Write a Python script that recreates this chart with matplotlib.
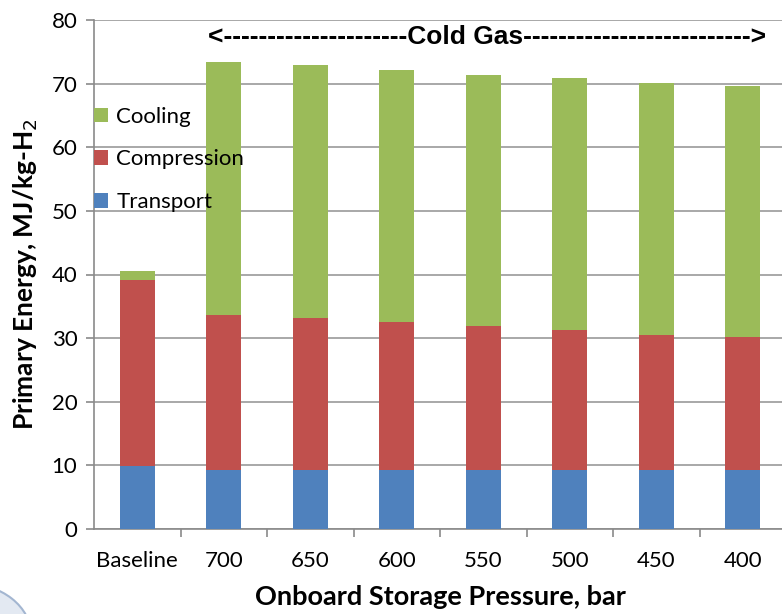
import numpy as np
import matplotlib
matplotlib.use("Agg")
import matplotlib.pyplot as plt
from matplotlib.patches import Circle

categories = ["Baseline", "700", "650", "600", "550", "500", "450", "400"]
transport = [9.9, 9.3, 9.3, 9.3, 9.3, 9.3, 9.3, 9.3]
compression_top = [39.1, 33.6, 33.1, 32.6, 31.9, 31.3, 30.5, 30.1]
total = [40.6, 73.4, 72.9, 72.1, 71.4, 70.9, 70.1, 69.6]

compression = [c - t for c, t in zip(compression_top, transport)]
cooling = [s - c for s, c in zip(total, compression_top)]

blue = "#4f81bd"
red = "#c0504d"
green = "#9bbb59"

plt.rcParams['font.family'] = ['Lato', 'DejaVu Sans']

fig = plt.figure(figsize=(7.82, 6.14), dpi=100)

# faint blue slide background piece at bottom-left corner
fig.patches.append(Circle((-0.045, -0.035), 0.085, transform=fig.transFigure,
                          facecolor="#e3e9f2", edgecolor="#a3b6d1", linewidth=1.5, zorder=0))

# axes spans a bit past the right edge of the picture, like the reference
ax = fig.add_axes([94 / 782, (614 - 529) / 614, (786 - 94) / 782, (529 - 20) / 614])
ax.patch.set_alpha(0)

x = np.arange(len(categories))
w = 0.40
ax.bar(x, transport, w, color=blue, label="Transport", zorder=3)
ax.bar(x, compression, w, bottom=transport, color=red, label="Compression", zorder=3)
ax.bar(x, cooling, w, bottom=compression_top, color=green, label="Cooling", zorder=3)

ax.set_xlim(-0.5, len(categories) - 0.5)
ax.set_ylim(0, 80)
ax.set_yticks(range(0, 81, 10))
ax.yaxis.grid(True, color="#9a9a9a", linewidth=1.2, zorder=0)
ax.set_axisbelow(True)

ax.set_xticks(x)
ax.set_xticklabels(categories, fontsize=16)
ax.set_xticks(np.arange(0.5, len(categories) - 0.5), minor=True)
ax.tick_params(axis='x', which='major', length=0, pad=16)
ax.tick_params(axis='x', which='minor', length=6, color="#8a8a8a", width=1.2, direction='out')
ax.tick_params(axis='y', length=6, color="#8a8a8a", width=1.2, labelsize=16, pad=6)

for s in ["top", "right"]:
    ax.spines[s].set_visible(False)
for s in ["left", "bottom"]:
    ax.spines[s].set_color("#8a8a8a")
    ax.spines[s].set_linewidth(1.2)

ax.set_ylabel("Primary Energy, MJ/kg-H$_2$", fontsize=19, fontweight="bold", labelpad=8)
ax.set_xlabel("Onboard Storage Pressure, bar", fontsize=19.5, fontweight="bold", labelpad=10)

handles, labels = ax.get_legend_handles_labels()
ax.legend(handles[::-1], labels[::-1], loc="upper left", bbox_to_anchor=(0.0, 0.830),
          frameon=False, fontsize=16, handlelength=0.62, handleheight=0.62,
          handletextpad=0.38, labelspacing=1.03, borderaxespad=0, borderpad=0)

ax.text(4.04, 77.3, "<" + "-" * 21 + "Cold Gas" + "-" * 26 + ">", ha="center", va="center",
        fontsize=19, fontweight="bold", family="Liberation Sans")

fig.savefig("out.png", dpi=100)
